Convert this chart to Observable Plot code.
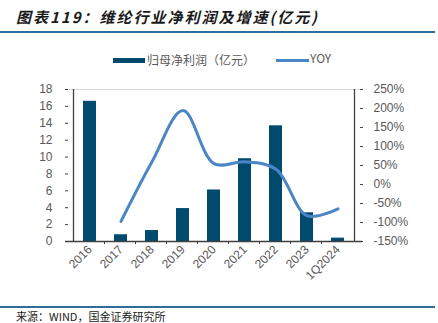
<!DOCTYPE html>
<html><head><meta charset="utf-8">
<script src="https://cdn.jsdelivr.net/npm/d3@7"></script>
<script src="https://cdn.jsdelivr.net/npm/@observablehq/plot@0.6"></script>
<style>
body{margin:0;background:#fff;font-family:"Liberation Sans","Noto Sans CJK SC",sans-serif;}
#wrap{position:relative;width:438px;height:323px;overflow:hidden;}
#title{position:absolute;left:16px;top:6px;font-family:"Noto Sans CJK SC",sans-serif;font-weight:bold;font-style:italic;font-size:15px;color:#1a1a1a;letter-spacing:2px;white-space:nowrap;}
#rule1{position:absolute;left:0;top:31px;width:435px;height:2px;background:#2f6d98;}
#rule2{position:absolute;left:0;top:306px;width:435px;height:2px;background:#2f6d98;}
#src{position:absolute;left:16px;top:310px;font-family:"Noto Sans CJK SC",sans-serif;font-size:11px;line-height:12px;color:#222;white-space:nowrap;}
.leg{position:absolute;font-family:"Noto Sans CJK SC",sans-serif;font-size:12px;color:#595959;white-space:nowrap;}
#chart{position:absolute;left:0;top:0;}
</style></head>
<body><div id="wrap">
<div id="title">图表119：维纶行业净利润及增速(亿元)</div>
<div id="rule1"></div>
<div id="chart"></div>
<div class="leg" style="left:113px;top:58px;width:32px;height:5px;background:#004a6e;"></div>
<div class="leg" style="left:147px;top:51px;">归母净利润（亿元）</div>
<div class="leg" style="left:276px;top:59px;width:33px;height:3px;background:#4a86c5;"></div>
<div class="leg" style="left:310px;top:49px;">YOY</div>
<div id="rule2"></div>
<div id="src">来源：WIND，国金证券研究所</div>
</div>
<script>
const categories = ["2016","2017","2018","2019","2020","2021","2022","2023","1Q2024"];
const profit = [16.6, 0.8, 1.3, 3.9, 6.1, 9.8, 13.7, 3.4, 0.4];
const yoy = [null, -97, 60, 195, 55, 60, 40, -82, -64];
const leftTicks = [0,2,4,6,8,10,12,14,16,18];
const rightTicks = [-150,-100,-50,0,50,100,150,200,250];

const L0 = 0, L1 = 18, R0 = -150, R1 = 250;
const toLeft = p => (p - R0) / (R1 - R0) * (L1 - L0) + L0;

const bars = categories.map((c,i)=>({cat:c, v:profit[i]}));
const line = categories.map((c,i)=>({cat:c, p:yoy[i]})).filter(d=>d.p!=null);

const W = 438, H = 323, ml = 65, mr = 76, mt = 89, mb = 82;
const bw = (W - ml - mr) / categories.length;

const chart = Plot.plot({
  width: W, height: H,
  marginLeft: ml, marginRight: mr, marginTop: mt, marginBottom: mb,
  style: {fontFamily: "Liberation Sans, Arial, sans-serif", fontSize: "12px", color: "#595959", background: "transparent"},
  x: {domain: categories, padding: 0.58, align: 0.5},
  y: {domain: [L0, L1]},
  marks: [
    Plot.ruleY([L1], {stroke: "#d9d9d9"}),
    Plot.barY(bars, {x: "cat", y: "v", fill: "#004a6e"}),
    Plot.line(line, {x: "cat", y: d => toLeft(d.p), stroke: "#4a86c5", strokeWidth: 3, curve: "catmull-rom"}),
    Plot.axisY(leftTicks, {anchor: "left", tickSize: 0, tickPadding: 13, label: null, fill: "#595959"}),
    Plot.axisY(leftTicks, {anchor: "left", tickSize: -3, text: null, label: null, stroke: "#404040"}),
    Plot.axisY(rightTicks.map(toLeft), {anchor: "right", tickSize: 0, tickPadding: 11, label: null, fill: "#595959",
      tickFormat: (d) => Math.round((d - L0) / (L1 - L0) * (R1 - R0) + R0) + "%"}),
    Plot.axisY(rightTicks.map(toLeft), {anchor: "right", tickSize: -3, text: null, label: null, stroke: "#404040"}),
    Plot.axisX(categories, {tickSize: 0, tickRotate: -45, tickPadding: 6, label: null, fill: "#595959"}),
    Plot.axisX(categories.slice(1), {tickSize: 3, text: null, label: null, dx: -bw/2, stroke: "#404040"}),
    Plot.ruleY([L0], {stroke: "#404040", strokeWidth: 1.3}),
    Plot.ruleX([categories[0]], {y1: L0, y2: L1, dx: -bw/2, stroke: "#404040", strokeWidth: 1.3}),
    Plot.ruleX([categories[categories.length-1]], {y1: L0, y2: L1, dx: bw/2, stroke: "#404040", strokeWidth: 1.3})
  ]
});
document.getElementById("chart").appendChild(chart);
</script>
</body></html>
